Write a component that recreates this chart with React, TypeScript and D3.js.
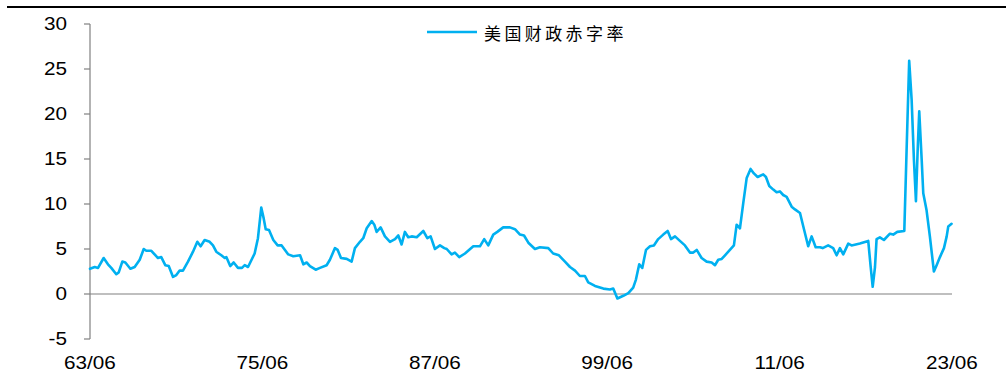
import React from "react";
import * as d3 from "d3";

const seriesName = "美国财政赤字率";

const dates: number[] = [
  1963.5, 1963.83, 1964.06, 1964.45, 1964.75, 1964.98, 1965.33, 1965.5, 1965.75, 1965.96,
  1966.31, 1966.61, 1966.96, 1967.24, 1967.42, 1967.77, 1968.11, 1968.23, 1968.46, 1968.74,
  1968.98, 1969.28, 1969.51, 1969.74, 1969.97, 1970.32, 1970.67, 1970.97, 1971.2, 1971.48,
  1971.83, 1972.06, 1972.29, 1972.64, 1972.88, 1972.99, 1973.26, 1973.5, 1973.8, 1974.08,
  1974.27, 1974.5, 1974.96, 1975.19, 1975.42, 1975.59, 1975.73, 1975.96, 1976.26, 1976.56,
  1976.84, 1977.07, 1977.3, 1977.65, 1978.12, 1978.35, 1978.58, 1978.81, 1979.21, 1979.51,
  1979.97, 1980.2, 1980.55, 1980.74, 1980.97, 1981.37, 1981.71, 1981.94, 1982.29, 1982.52,
  1982.76, 1983.11, 1983.29, 1983.45, 1983.73, 1984.03, 1984.38, 1984.73, 1984.96, 1985.19,
  1985.42, 1985.65, 1985.89, 1986.24, 1986.7, 1986.98, 1987.21, 1987.51, 1987.86, 1988.16,
  1988.33, 1988.67, 1988.9, 1989.2, 1989.6, 1990.18, 1990.64, 1990.94, 1991.22, 1991.57,
  1991.85, 1992.26, 1992.73, 1993.08, 1993.43, 1993.71, 1994.01, 1994.47, 1994.82, 1995.4,
  1995.74, 1996.14, 1996.56, 1996.91, 1997.26, 1997.6, 1997.95, 1998.18, 1998.65, 1999.23,
  1999.69, 1999.92, 2000.21, 2000.62, 2000.97, 2001.31, 2001.5, 2001.73, 2001.94, 2002.2,
  2002.48, 2002.75, 2003.05, 2003.4, 2003.71, 2003.94, 2004.22, 2004.56, 2004.91, 2005.26,
  2005.49, 2005.73, 2006.07, 2006.42, 2006.77, 2007.0, 2007.23, 2007.47, 2007.7, 2008.04,
  2008.32, 2008.51, 2008.74, 2008.97, 2009.21, 2009.48, 2009.71, 2009.97, 2010.36, 2010.55,
  2010.78, 2011.06, 2011.29, 2011.52, 2011.75, 2011.99, 2012.34, 2012.57, 2012.92, 2013.15,
  2013.49, 2013.73, 2014.01, 2014.31, 2014.5, 2014.88, 2015.23, 2015.47, 2015.7, 2015.93,
  2016.28, 2016.51, 2017.09, 2017.67, 2017.84, 2017.98, 2018.14, 2018.25, 2018.48, 2018.76,
  2019.18, 2019.41, 2019.69, 2020.18, 2020.34, 2020.52, 2020.69, 2020.85, 2020.99, 2021.11,
  2021.22, 2021.39, 2021.5, 2021.73, 2021.96, 2022.24, 2022.43, 2022.66, 2022.94, 2023.13,
  2023.24, 2023.47,
];

const deficitRate: number[] = [
  2.8, 3.0, 2.9, 4.0, 3.3, 2.9, 2.2, 2.4, 3.6, 3.5,
  2.8, 3.0, 3.8, 5.0, 4.8, 4.8, 4.2, 4.0, 4.1, 3.2,
  3.1, 1.9, 2.1, 2.6, 2.6, 3.6, 4.7, 5.8, 5.3, 6.0,
  5.8, 5.4, 4.7, 4.3, 4.0, 4.1, 3.1, 3.5, 2.9, 2.9,
  3.2, 3.0, 4.5, 6.2, 9.6, 8.4, 7.2, 7.1, 6.0, 5.4,
  5.4, 4.9, 4.4, 4.2, 4.3, 3.3, 3.5, 3.1, 2.7, 2.9,
  3.2, 3.8, 5.1, 4.9, 4.0, 3.9, 3.6, 5.1, 5.8, 6.2,
  7.3, 8.1, 7.7, 6.9, 7.4, 6.4, 5.8, 6.1, 6.5, 5.5,
  6.9, 6.3, 6.4, 6.3, 7.0, 6.2, 6.4, 5.0, 5.4, 5.1,
  5.0, 4.4, 4.6, 4.1, 4.5, 5.3, 5.3, 6.1, 5.4, 6.6,
  6.9, 7.4, 7.4, 7.2, 6.6, 6.5, 5.7, 5.0, 5.2, 5.1,
  4.5, 4.3, 3.6, 3.0, 2.6, 2.0, 2.0, 1.3, 0.9, 0.6,
  0.5, 0.6, -0.5, -0.2, 0.1, 0.7, 1.6, 3.3, 2.9, 4.9,
  5.3, 5.4, 6.1, 6.6, 7.0, 6.1, 6.4, 5.9, 5.4, 4.6,
  4.6, 4.9, 4.0, 3.6, 3.5, 3.2, 3.8, 3.9, 4.3, 4.9,
  5.4, 7.7, 7.3, 10.1, 12.9, 13.9, 13.4, 13.0, 13.3, 13.0,
  12.0, 11.6, 11.3, 11.4, 11.0, 10.8, 9.7, 9.4, 9.0, 7.5,
  5.3, 6.4, 5.2, 5.2, 5.1, 5.4, 5.1, 4.3, 5.1, 4.4,
  5.6, 5.4, 5.6, 5.9, 3.0, 0.8, 3.0, 6.1, 6.3, 6.0,
  6.7, 6.6, 6.9, 7.0, 16.0, 25.9, 21.6, 14.9, 10.3, 16.0,
  20.3, 14.9, 11.2, 9.3, 6.4, 2.5, 3.2, 4.1, 5.1, 6.4,
  7.5, 7.8,
];

const yTicks: number[] = [-5, 0, 5, 10, 15, 20, 25, 30];
const xTickLabels: string[] = ["63/06", "75/06", "87/06", "99/06", "11/06", "23/06"];
const xTickYears: number[] = [1963.5, 1975.5, 1987.5, 1999.5, 2011.5, 2023.5];

const W = 1008;
const H = 378;
const FONT = "'Liberation Sans', Arial, sans-serif";
const FONT_SIZE = 18;
const STRETCH = 1.15;
const LINE_COLOR = "#00B0F0";
const AXIS_COLOR = "#808080";

export default function App() {
  const x = d3.scaleLinear().domain([1963.5, 2023.5]).range([90, 952]);
  const y = d3.scaleLinear().domain([-5, 30]).range([339, 24]);

  const data = dates.map((d, i) => ({ d, v: deficitRate[i] }));
  const line = d3
    .line<{ d: number; v: number }>()
    .x((p) => x(p.d))
    .y((p) => y(p.v));

  return (
    <svg
      width={W}
      height={H}
      style={{ position: "absolute", left: 0, top: 0, background: "#fff" }}
    >
      {/* top border line */}
      <line x1={7} x2={1006} y1={7} y2={7} stroke="#000" strokeWidth={2} />

      {/* y axis */}
      <line x1={x.range()[0]} x2={x.range()[0]} y1={y(30)} y2={y(-5)} stroke={AXIS_COLOR} strokeWidth={1.2} />
      {yTicks.map((t) => (
        <g key={t}>
          <line x1={x.range()[0] - 6} x2={x.range()[0]} y1={y(t)} y2={y(t)} stroke={AXIS_COLOR} strokeWidth={1.2} />
          <text
            transform={`translate(67,${y(t)}) scale(${STRETCH},1)`}
            textAnchor="end"
            dominantBaseline="central"
            fontFamily={FONT}
            fontSize={FONT_SIZE}
            fill="#000"
          >
            {t}
          </text>
        </g>
      ))}

      {/* zero line */}
      <line x1={x.range()[0]} x2={x.range()[1]} y1={y(0)} y2={y(0)} stroke={AXIS_COLOR} strokeWidth={1.2} />

      {/* x labels */}
      {xTickLabels.map((lab, i) => (
        <text
          key={lab}
          transform={`translate(${x(xTickYears[i])},369) scale(${STRETCH},1)`}
          textAnchor="middle"
          fontFamily={FONT}
          fontSize={FONT_SIZE}
          fill="#000"
        >
          {lab}
        </text>
      ))}

      {/* series */}
      <path
        d={line(data) || ""}
        fill="none"
        stroke={LINE_COLOR}
        strokeWidth={2.6}
        strokeLinejoin="round"
        strokeLinecap="round"
      />

      {/* legend */}
      <line x1={427} x2={477} y1={32} y2={32} stroke={LINE_COLOR} strokeWidth={2.6} />
      <text
        x={484}
        y={32}
        dominantBaseline="central"
        fontFamily="'Noto Sans CJK SC', sans-serif"
        fontSize={17}
        letterSpacing={3.4}
        fill="#000"
      >
        {seriesName}
      </text>
    </svg>
  );
}
